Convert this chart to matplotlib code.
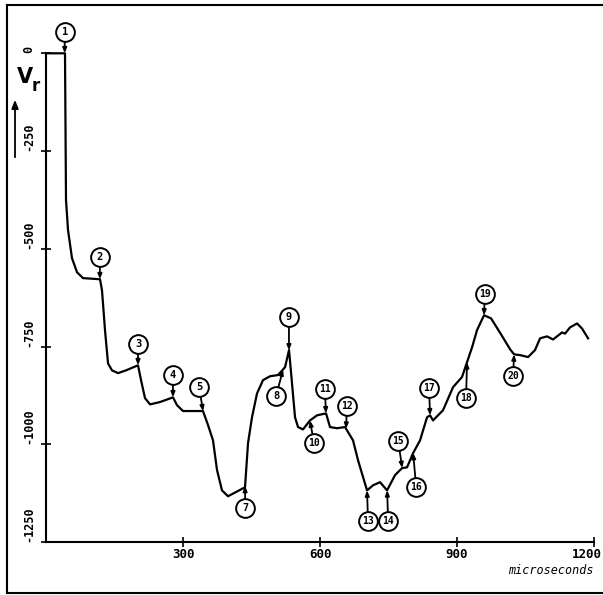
import numpy as np
import matplotlib
matplotlib.use("Agg")
import matplotlib.pyplot as plt
from matplotlib.lines import Line2D
from matplotlib import transforms

# Waveform of the received voltage V_r versus time (microseconds)
time_us = [0, 41.6, 43.8, 48.2, 56.9, 67.9, 81.0, 118.3, 122.6, 129.2, 135.8,
           144.5, 157.7, 175.2, 201.5, 208.1, 216.8, 227.8, 249.7, 278.1, 286.9,
           300.0, 343.8, 354.8, 365.7, 374.5, 385.4, 398.6, 435.8, 442.4, 451.1,
           462.1, 475.2, 490.6, 508.1, 523.4, 532.2, 538.7, 545.3, 551.9, 562.8,
           578.2, 593.5, 613.2, 622.0, 637.3, 654.8, 672.3, 683.3, 703.0, 716.1,
           731.5, 746.8, 764.3, 779.6, 790.6, 803.7, 819.1, 834.4, 841.0, 847.5,
           869.4, 891.3, 911.0, 922.0, 933.0, 943.9, 959.2, 974.6, 996.5, 1016.2,
           1025.0, 1038.1, 1055.6, 1070.9, 1081.9, 1097.2, 1110.3, 1130.0, 1136.6,
           1147.6, 1162.9, 1173.8, 1187.0]
voltage = [0, 0, -375, -452, -524, -560, -575, -578, -606, -708, -793,
           -811, -818, -811, -798, -836, -882, -898, -892, -880, -900,
           -915, -915, -951, -990, -1066, -1118, -1133, -1110, -997, -931,
           -870, -836, -826, -823, -803, -759, -844, -931, -956, -962,
           -939, -926, -921, -956, -959, -956, -990, -1041, -1118, -1105,
           -1097, -1118, -1079, -1061, -1059, -1023, -990, -931, -926, -939,
           -913, -854, -828, -790, -752, -708, -670, -678, -719, -757,
           -770, -772, -777, -759, -729, -724, -732, -714, -717,
           -701, -691, -704, -729]

# Numbered events along the trace
event_ids = [1, 2, 3, 4, 5, 7, 8, 9, 10, 11, 12, 13, 14, 15, 16, 17, 18, 19, 20]
event_times = [41, 118, 201.5, 278, 344, 436, 519, 532, 578, 613, 657, 703, 747,
               780, 804, 841, 922, 959, 1025]

x_ticks = [300, 600, 900, 1200]
x_tick_labels = ["300", "600", "900", "1200"]
y_ticks = [0, -250, -500, -750, -1000, -1250]
y_tick_labels = ["0", "-250", "-500", "-750", "-1000", "-1250"]

# label placement of each event circle, in pixels from the trace point
event_offsets = [(0, 21), (0, 22), (0, 21), (0, 22), (-4, 24), (0, -22), (-7, -27),
                 (0, 33), (4, -22), (-1, 24), (1, 23), (1, -31), (1, -31), (-4, 27),
                 (3, -34), (-1, 27), (-1, -36), (1, 21), (-1, -22)]

W, H = 603, 595
fig = plt.figure(figsize=(W / 100, H / 100), dpi=100)
fig.patch.set_facecolor("white")

ax_l, ax_r, ax_b, ax_t = 46, 594, 542, 53.3
ax = fig.add_axes([ax_l / W, 1 - ax_b / H, (ax_r - ax_l) / W, (ax_b - ax_t) / H])
ax.set_xlim(0, 1200)
ax.set_ylim(-1250, 0)
ax.patch.set_visible(False)

mono = "DejaVu Sans Mono"

ax.plot(time_us, voltage, color="black", lw=1.6, clip_on=False,
        solid_joinstyle="round", zorder=3)

for s in ["top", "right"]:
    ax.spines[s].set_visible(False)
for s in ["left", "bottom"]:
    ax.spines[s].set_linewidth(1.5)

ax.set_xticks(x_ticks)
ax.set_xticklabels(x_tick_labels, fontfamily=mono, fontweight="bold", fontsize=9)
ax.set_yticks(y_ticks)
ax.set_yticklabels(y_tick_labels, fontfamily=mono, fontweight="bold", fontsize=8.5)
ax.tick_params(axis="both", direction="inout", length=7, width=1.2)
ax.tick_params(axis="x", pad=1)
ax.tick_params(axis="y", labelrotation=90, pad=4)
for lbl in ax.get_yticklabels():
    lbl.set_verticalalignment("bottom")
    lbl.set_horizontalalignment("right")
# keep the last time label inside the sheet
last = ax.get_xticklabels()[-1]
last.set_horizontalalignment("right")
last.set_transform(last.get_transform() + transforms.ScaledTranslation(
    8 / 100, 0, fig.dpi_scale_trans))

ax.text(1.0, -0.045, "microseconds", transform=ax.transAxes, ha="right", va="top",
        fontfamily=mono, fontstyle="italic", fontsize=8.5)

# axis name and upward arrow
fig.text(17 / W, 1 - 77 / H, "V", fontsize=15, fontweight="bold", ha="left",
         va="center", fontfamily="DejaVu Sans")
fig.text(32 / W, 1 - 86 / H, "r", fontsize=12, fontweight="bold", ha="left",
         va="center", fontfamily="DejaVu Sans")
fig.add_artist(matplotlib.patches.FancyArrowPatch(
    (15 / W, 1 - 160 / H), (15 / W, 1 - 97 / H), transform=fig.transFigure,
    arrowstyle="-|>,head_length=0.5,head_width=0.2", mutation_scale=10,
    lw=1.3, color="black"))

# event markers
for eid, et, (dx, dy) in zip(event_ids, event_times, event_offsets):
    ev = float(np.interp(et, time_us, voltage))
    ax.annotate("", xy=(et, ev), xycoords="data", xytext=(dx, dy),
                textcoords="offset pixels", annotation_clip=False,
                arrowprops=dict(arrowstyle="-|>,head_length=0.5,head_width=0.2",
                                mutation_scale=6, lw=1.3, color="black",
                                shrinkA=6.5, shrinkB=0), zorder=4)
    tr = transforms.offset_copy(ax.transData, fig=fig, x=dx, y=dy, units="dots")
    ax.plot([et], [ev], marker="o", markersize=13.5, markerfacecolor="white",
            markeredgecolor="black", markeredgewidth=1.4, transform=tr,
            clip_on=False, zorder=5)
    ax.text(et, ev, str(eid), transform=tr, ha="center", va="center",
            fontsize=7 if eid >= 10 else 7.5, fontweight="bold",
            fontfamily=mono, zorder=6, clip_on=False)

# outer frame
fx = lambda px: px / W
fy = lambda py: 1 - py / H
for xs, ys in [([7, W], [5, 5]), ([7, 7], [5, 593]), ([7, W], [593, 593])]:
    fig.add_artist(Line2D([fx(v) for v in xs], [fy(v) for v in ys],
                          color="black", lw=1.5))

fig.savefig("out.png", dpi=100, facecolor="white")
